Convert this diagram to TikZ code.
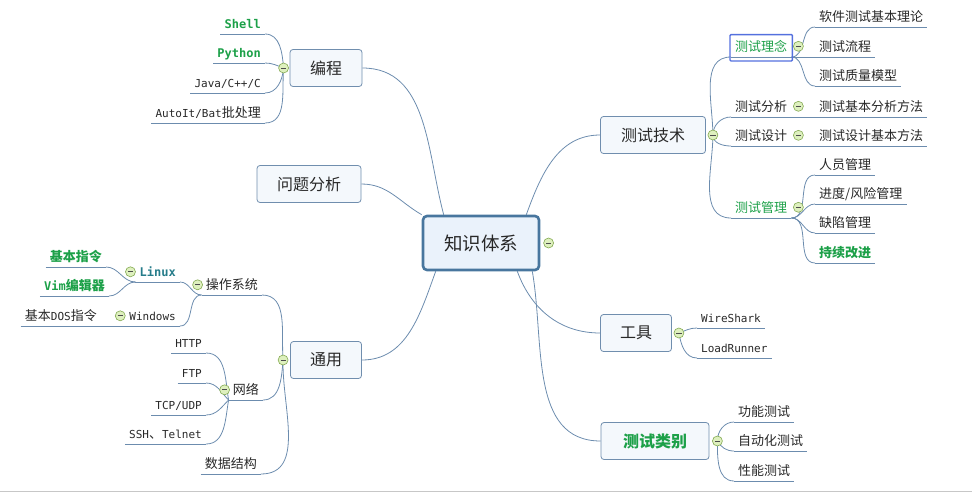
\documentclass[tikz,border=0pt]{standalone}
\usepackage{fontspec}
\newfontfamily\cjkfont{Noto Sans CJK SC}
\newfontfamily\monofamily{DejaVu Sans Mono}
\usetikzlibrary{positioning,fit,backgrounds}

\definecolor{linec}{RGB}{108,140,174}
\definecolor{rootline}{RGB}{72,118,158}
\definecolor{rootfill}{RGB}{234,242,251}
\definecolor{topicline}{RGB}{112,142,174}
\definecolor{topicfill}{RGB}{244,248,252}
\definecolor{leaftext}{RGB}{40,40,40}
\definecolor{greentext}{RGB}{28,160,72}
\definecolor{tealtext}{RGB}{38,124,138}
\definecolor{selblue}{RGB}{84,112,222}
\definecolor{foldline}{RGB}{132,170,82}
\definecolor{foldfill}{RGB}{222,240,190}

\newcommand\zhfont{\cjkfont\fontsize{13}{15}\selectfont}
\newcommand\zhbold{\cjkfont\bfseries\fontsize{13}{15}\selectfont}
\newcommand\ttfont{\monofamily\fontsize{11}{14}\selectfont}
\newcommand\ttbold{\monofamily\bfseries\fontsize{12}{14}\selectfont}

\begin{document}
\begin{tikzpicture}[x=1pt, y=1pt,
    line/.style={draw=linec, line width=0.8pt},
    rootbox/.style={%
      rectangle, rounded corners=4pt, draw=rootline, line width=2.6pt,
      fill=rootfill, minimum width=116pt, minimum height=54pt,
      font=\cjkfont\fontsize{18.5}{20}\selectfont, text=leaftext
    },
    topic/.style={%
      rectangle, rounded corners=3pt, draw=topicline, line width=0.8pt,
      fill=topicfill, minimum height=37pt,
      font=\cjkfont\fontsize{16}{18}\selectfont, text=leaftext
    },
    leaf/.style={%
      inner xsep=4pt, inner ysep=3pt, text height=10pt, text depth=2pt,
      font=\zhfont, text=leaftext,
      append after command={(\tikzlastnode.south west) edge[line] (\tikzlastnode.south east)}
    },
    fold/.style={%
      circle, draw=foldline, fill=foldfill, line width=0.6pt,
      minimum size=10pt, inner sep=0pt,
      path picture={\draw[black!70, line width=0.8pt]
        ([xshift=-2.6pt]path picture bounding box.center) --
        ([xshift=2.6pt]path picture bounding box.center);}
    },
    selbox/.style={%
      rectangle, draw=selblue, line width=1.4pt, rounded corners=1pt,
      inner xsep=1pt, inner ysep=4pt
    }
]
    \useasboundingbox (0,0) rectangle (972,-493);

    % centre and main topics
    \node[rootbox] (root) at (481,-243) {知识体系};
    \node[fold] (root-c) [right=3pt of root] {};

    \node[topic, minimum width=72pt]  (bc)   at (326,-68)  {编程};
    \node[topic, minimum width=104pt] (wtfx) at (309,-184) {问题分析};
    \node[topic, minimum width=71pt]  (ty)   at (326,-360) {通用};
    \node[topic, minimum width=105pt] (csjs) at (653,-135) {测试技术};
    \node[topic, minimum width=71pt]  (gj)   at (636,-333) {工具};
    \node[topic, minimum width=108pt, text=greentext,
          font=\cjkfont\bfseries\fontsize{16}{18}\selectfont] (cslb) at (655,-441) {测试类别};

    \node[fold] (bc-c)   at ([xshift=-6pt]bc.west)   {};
    \node[fold] (ty-c)   at ([xshift=-7pt]ty.west)   {};
    \node[fold] (csjs-c) at ([xshift=7pt]csjs.east)  {};
    \node[fold] (gj-c)   at ([xshift=7pt]gj.east)    {};
    \node[fold] (cslb-c) at ([xshift=8pt]cslb.east)  {};

    % 编程
    \node[leaf, anchor=south east, text=greentext, font=\ttbold] (shell)  at (265,-34) {Shell};
    \node[leaf, anchor=south east, text=greentext, font=\ttbold] (python) at (265,-63) {Python};
    \node[leaf, anchor=south east, font=\ttfont] (java)   at (265,-93)  {Java/C++/C};
    \node[leaf, anchor=south east]               (autoit) at (265,-123) {{\ttfont AutoIt/Bat}批处理};

    % 测试技术
    \node[leaf, anchor=south west, text=greentext] (lln) at (731,-57)  {测试理念};
    \node[selbox, fit=(lln)] (lln-sel) {};
    \node[leaf, anchor=south west]                 (lfx) at (731,-117) {测试分析};
    \node[leaf, anchor=south west]                 (lsj) at (731,-146) {测试设计};
    \node[leaf, anchor=south west, text=greentext] (lgl) at (731,-218) {测试管理};
    \node[fold] (lln-c) at ([xshift=7pt,yshift=1.5pt]lln.east) {};
    \node[fold] (lfx-c) at ([xshift=7pt,yshift=1.5pt]lfx.east) {};
    \node[fold] (lsj-c) at ([xshift=7pt,yshift=1.5pt]lsj.east) {};
    \node[fold] (lgl-c) at ([xshift=7pt,yshift=1.5pt]lgl.east) {};

    \node[leaf, anchor=south west] (rjll) at (815,-27)  {软件测试基本理论};
    \node[leaf, anchor=south west] (cslc) at (815,-57)  {测试流程};
    \node[leaf, anchor=south west] (zlmx) at (815,-86)  {测试质量模型};
    \node[leaf, anchor=south west] (fxff) at (815,-117) {测试基本分析方法};
    \node[leaf, anchor=south west] (sjff) at (815,-146) {测试设计基本方法};
    \node[leaf, anchor=south west] (rygl) at (815,-175) {人员管理};
    \node[leaf, anchor=south west] (jdgl) at (815,-204) {进度/风险管理};
    \node[leaf, anchor=south west] (qxgl) at (815,-233) {缺陷管理};
    \node[leaf, anchor=south west, text=greentext, font=\zhbold] (cxgj) at (815,-263) {持续改进};

    % 工具
    \node[leaf, anchor=south west, font=\ttfont] (ws) at (697,-328) {WireShark};
    \node[leaf, anchor=south west, font=\ttfont] (lr) at (697,-358) {LoadRunner};

    % 测试类别
    \node[leaf, anchor=south west] (gncs) at (734,-422) {功能测试};
    \node[leaf, anchor=south west] (zdcs) at (734,-451) {自动化测试};
    \node[leaf, anchor=south west] (xncs) at (734,-481) {性能测试};

    % 通用
    \node[leaf, anchor=south east] (czxt) at (262,-295) {操作系统};
    \node[leaf, anchor=south east] (wl)   at (263,-400) {网络};
    \node[leaf, anchor=south east] (sjjg) at (261,-474) {数据结构};
    \node[fold] (czxt-c) at ([xshift=-4pt,yshift=1pt]czxt.west) {};
    \node[fold] (wl-c)   at ([xshift=-4pt,yshift=1pt]wl.west)   {};

    \node[leaf, anchor=south east, text=tealtext, font=\ttbold] (linux) at (180,-282) {Linux};
    \node[leaf, anchor=south east, font=\ttfont] (windows) at (180,-326) {Windows};
    \node[fold] (linux-c)   at ([xshift=-5pt,yshift=1pt]linux.west)   {};
    \node[fold] (windows-c) at ([xshift=-5pt,yshift=1pt]windows.west) {};
    \node[leaf, anchor=south east, text=greentext, font=\zhbold] (jbzl) at (106,-267) {基本指令};
    \node[leaf, anchor=south east, text=greentext, font=\zhbold] (vim)  at (109,-296) {{\ttbold Vim}编辑器};
    \node[leaf, anchor=south east] (dos) at (101,-326) {基本{\ttfont DOS}指令};

    \node[leaf, anchor=south east, font=\ttfont] (http) at (206,-353) {HTTP};
    \node[leaf, anchor=south east, font=\ttfont] (ftp)  at (206,-383) {FTP};
    \node[leaf, anchor=south east, font=\ttfont] (tcp)  at (206,-415) {TCP/UDP};
    \node[leaf, anchor=south east] (ssh) at (206,-444) {{\ttfont SSH}、{\ttfont Telnet}};

    % screen edge
    \draw[black!22, line width=1pt] (0,-491) -- (972,-491);

    \begin{scope}[on background layer]
      % centre to main topics
      \draw[line] (bc.east)   to[out=0,in=105]   ([xshift=22pt]root.north west);
      \draw[line] (wtfx.east) to[out=0,in=150]   (root.north west);
      \draw[line] (ty.east)   to[out=0,in=-110]  ([xshift=14pt]root.south west);
      \draw[line] (csjs.west) to[out=180,in=70]  ([xshift=-14pt]root.north east);
      \draw[line] (gj.west)   to[out=180,in=-70] ([xshift=-23pt]root.south east);
      \draw[line] (cslb.west) to[out=180,in=-80] ([xshift=-8pt]root.south east);

      % 编程
      \draw[line] (bc-c.center) to[out=95,in=0]  (shell.south east);
      \draw[line] (bc-c.center) to[out=160,in=0] (python.south east);
      \draw[line] (bc-c.center) to[out=-95,in=0] (java.south east);
      \draw[line] (bc-c.center) to[out=-95,in=0] (autoit.south east);

      % 测试技术
      \draw[line] (csjs-c.center) to[out=90,in=180]  (lln.south west);
      \draw[line] (csjs-c.center) to[out=90,in=180]  (lfx.south west);
      \draw[line] (csjs-c.center) to[out=-90,in=180] (lsj.south west);
      \draw[line] (csjs-c.center) to[out=-90,in=180] (lgl.south west);
      \draw[line] (lln.south east) to[out=0,in=180] (rjll.south west);
      \draw[line] (lln.south east) -- (cslc.south west);
      \draw[line] (lln.south east) to[out=0,in=180] (zlmx.south west);
      \draw[line] (lfx.south east) -- (fxff.south west);
      \draw[line] (lsj.south east) -- (sjff.south west);
      \draw[line] (lgl.south east) to[out=0,in=180] (rygl.south west);
      \draw[line] (lgl.south east) to[out=0,in=180] (jdgl.south west);
      \draw[line] (lgl.south east) to[out=0,in=180] (qxgl.south west);
      \draw[line] (lgl.south east) to[out=0,in=180] (cxgj.south west);

      % 工具
      \draw[line] (gj-c.center) to[out=20,in=180]  (ws.south west);
      \draw[line] (gj-c.center) to[out=-80,in=180] (lr.south west);

      % 测试类别
      \draw[line] (cslb-c.center) to[out=90,in=180]  (gncs.south west);
      \draw[line] (cslb-c.center) to[out=-60,in=180] (zdcs.south west);
      \draw[line] (cslb-c.center) to[out=-90,in=180] (xncs.south west);

      % 通用
      \draw[line] (ty-c.center) to[out=95,in=0]  (czxt.south east);
      \draw[line] (ty-c.center) to[out=-95,in=0] (wl.south east);
      \draw[line] (ty-c.center) to[out=-92,in=0] (sjjg.south east);
      \draw[line] (czxt.south west) to[out=180,in=0] (linux.south east);
      \draw[line] (czxt.south west) to[out=180,in=0] (windows.south east);
      \draw[line] (linux.south west) to[out=180,in=0] (jbzl.south east);
      \draw[line] (linux.south west) to[out=180,in=0] (vim.south east);
      \draw[line] (windows.south west) -- (dos.south east);
      \draw[line] (wl.south west) to[out=100,in=0]  (http.south east);
      \draw[line] (wl.south west) to[out=135,in=0]  (ftp.south east);
      \draw[line] (wl.south west) to[out=-135,in=0] (tcp.south east);
      \draw[line] (wl.south west) to[out=-100,in=0] (ssh.south east);
    \end{scope}
\end{tikzpicture}
\end{document}
